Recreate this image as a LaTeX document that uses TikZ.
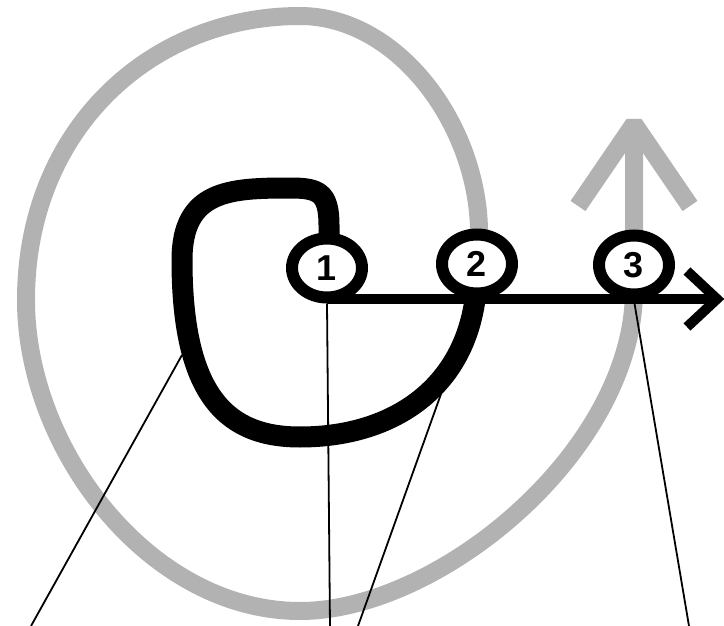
\documentclass[tikz,border=0pt]{standalone}
\usepackage{fontspec}
\setmainfont{Liberation Sans}
\usetikzlibrary{shapes.geometric, calc}

\begin{document}
\begin{tikzpicture}[
  x=1pt, y=-1pt,
  spiral/.style={line width=18pt, draw=gray!60},
  loopline/.style={line width=21pt, line join=round},
  ring/.style={ellipse, draw, line width=12pt, fill=white,
    minimum width=70pt, minimum height=59pt, inner sep=0pt,
    font=\bfseries\fontsize{36}{36}\selectfont},
  leader/.style={line width=1.8pt},
  ]
  \useasboundingbox (0,0) rectangle (724,626);

  % centres of the rings and free ends
  \coordinate (c1) at (327,268);
  \coordinate (c2) at (477,264);
  \coordinate (c3) at (634,265);
  \coordinate (tip) at (717,299);
  \coordinate (up) at (634,124);

  % big grey spiral, ending in the upward arrow
  \draw[spiral] (479,262) -- (479,240)
    .. controls (482,130) and (400,16) .. (300,16)
    .. controls (150,16) and (26,130) .. (26,300)
    .. controls (26,450) and (150,611) .. (300,611)
    .. controls (440,611) and (634,450) .. (634,290)
    -- ($(up)+(0,6)$);
  \draw[spiral, line join=bevel] ($(up)+(-56,82)$) -- (up) -- ($(up)+(56,82)$);

  % black loop from ring 1 to ring 2
  \draw[loopline] (329,262) -- (329,225)
    .. controls (329,192) and (318,188) .. (290,188)
    .. controls (230,188) and (182,190) .. (182,260)
    .. controls (182,400) and (230,437) .. (300,437)
    .. controls (400,437) and (477,380) .. (477,270);

  % horizontal arrow
  \coordinate (a0) at (327,299);
  \draw[line width=10pt] (a0) -- (tip);
  \draw[line width=10pt, line join=miter] ($(tip)+(-30,-28)$) -- (tip) -- ($(tip)+(-30,28)$);

  % the three rings
  \node[ring] (n1) at (c1) {1};
  \node[ring] (n2) at (c2) {2};
  \node[ring] (n3) at (c3) {3};

  % leader lines to the bottom edge
  \coordinate (p1) at (182,355);
  \coordinate (p3) at (441,394);
  \coordinate (e1) at (31,626);
  \coordinate (e2) at (330,626);
  \coordinate (e3) at (358,626);
  \coordinate (e4) at (689,626);
  \draw[leader] (p1) -- (e1);
  \draw[leader] (n1.south) -- (e2);
  \draw[leader] (p3) -- (e3);
  \draw[leader] (n3.south) -- (e4);
\end{tikzpicture}
\end{document}
